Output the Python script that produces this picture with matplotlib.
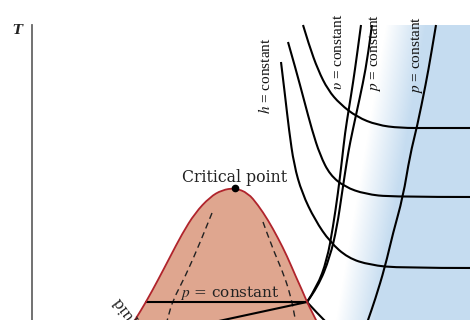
import numpy as np
import matplotlib
matplotlib.use("Agg")
import matplotlib.pyplot as plt
from matplotlib.path import Path
from matplotlib.patches import PathPatch

plt.rcParams['mathtext.fontset'] = 'stix'

# ---- data (s, T) in diagram units ----
dome_s = [130, 135, 146, 158, 170, 182, 195, 210, 222, 235, 248, 258, 268, 278, 287, 296, 302, 307, 312, 316, 321]
dome_T = [-8, 0, 18, 40, 63, 86, 107, 123, 130, 132, 127, 115, 100, 82, 64, 43, 30, 18, 8, 0, -10]
crit_s, crit_T = 235, 132

dash_left_s = [212, 200, 185, 173, 168, 166]
dash_left_T = [107, 77, 43, 20, 3, -5]
dash_right_s = [263, 272, 282, 290, 295, 296]
dash_right_T = [98, 73, 50, 27, 3, -5]

psat_s = [145, 307]
psat_T = [18, 18]
wet_s = [307, 205]
wet_T = [18, -4]
tail_s = [307, 316, 327]
tail_T = [18, 8, -3]

hA_s = [303, 309, 318, 328, 340, 357, 377, 400, 430, 475]
hA_T = [295, 275, 250, 230, 216, 203, 195, 192, 192, 192]
hB_s = [288, 296, 304, 312, 320, 330, 345, 365, 392, 475]
hB_T = [278, 250, 220, 190, 165, 145, 133, 126, 123, 123]
hC_s = [281, 285, 289, 294, 302, 315, 330, 348, 370, 400, 475]
hC_T = [258, 225, 190, 155, 127, 100, 78, 62, 55, 52, 52]

v_s = [361, 357, 353, 349, 345, 342, 338, 333, 327, 317, 307]
v_T = [295, 265, 237, 212, 187, 160, 127, 93, 60, 33, 18]
p1_s = [372, 368, 363, 356, 350, 347, 342, 337, 330, 318, 307]
p1_T = [295, 265, 237, 205, 177, 160, 127, 93, 63, 33, 18]
p2_s = [436, 431, 426, 417, 410, 403, 393, 385, 375, 368, 366]
p2_T = [295, 265, 237, 193, 165, 123, 87, 53, 20, 0, -6]

RED_EDGE = '#b0242c'
DOME_FILL = '#dfa68f'
BLUE = (0.776, 0.863, 0.945)


def smooth_path(s, T, close=False):
    pts = np.column_stack([s, T]).astype(float)
    n = len(pts)
    verts = [pts[0]]
    codes = [Path.MOVETO]
    if n == 2:
        verts.append(pts[1]); codes.append(Path.LINETO)
    else:
        for i in range(1, n - 1):
            end = pts[i + 1] if i == n - 2 else (pts[i] + pts[i + 1]) / 2
            verts += [pts[i], end]
            codes += [Path.CURVE3, Path.CURVE3]
    if close:
        verts.append(pts[0]); codes.append(Path.CLOSEPOLY)
    return Path(verts, codes)


fig = plt.figure(figsize=(4.7, 3.2), dpi=100)
ax = fig.add_axes([0, 0, 1, 1])

# blue superheated-vapor gradient
ss = np.linspace(320, 470, 300)
TT = np.linspace(0, 295, 300)
x0 = 336 + (386 - 336) * TT / 295
alpha = np.clip((ss[None, :] - x0[:, None]) / 40.0, 0, 1)
rgba = np.zeros((300, 300, 4))
rgba[..., 0], rgba[..., 1], rgba[..., 2] = BLUE
rgba[..., 3] = alpha
ax.imshow(rgba, extent=[320, 470, 0, 295], origin='lower', aspect='auto',
          zorder=0, interpolation='bilinear')

# dome
ax.add_patch(PathPatch(smooth_path(dome_s, dome_T, close=True), facecolor=DOME_FILL,
                       edgecolor='none', zorder=1))
ax.add_patch(PathPatch(smooth_path(dome_s, dome_T), facecolor='none',
                       edgecolor=RED_EDGE, lw=1.3, zorder=4))

# dashed lines inside dome
for s, T in [(dash_left_s, dash_left_T), (dash_right_s, dash_right_T)]:
    ax.add_patch(PathPatch(smooth_path(s, T), facecolor='none', edgecolor='#222222',
                           lw=1.0, linestyle=(0, (4.5, 3)), zorder=2))

# black curves
for s, T in [(psat_s, psat_T), (wet_s, wet_T), (tail_s, tail_T),
             (hA_s, hA_T), (hB_s, hB_T), (hC_s, hC_T),
             (v_s, v_T), (p1_s, p1_T), (p2_s, p2_T)]:
    ax.add_patch(PathPatch(smooth_path(s, T), facecolor='none', edgecolor='black',
                           lw=1.5, zorder=3, capstyle='butt'))

# critical point
ax.plot([crit_s], [crit_T], 'o', color='black', ms=4.5, zorder=5)

# texts
ax.text(235, 142, 'Critical point', ha='center', va='center', family='DejaVu Serif',
        fontsize=11.3, color='#222222', zorder=6)
ax.text(230, 27, r'$p$ = constant', ha='center', va='center', family='DejaVu Serif',
        fontsize=11, color='#222222', zorder=6)
rot_kw = dict(rotation=90, ha='center', va='center', family='Liberation Serif',
              fontsize=11, color='#111111', zorder=6)
ax.text(265, 244, r'$h$ = constant', **rot_kw)
ax.text(338, 268, r'$\upsilon$ = constant', **rot_kw)
ax.text(375, 267, r'$p$ = constant', **rot_kw)
ax.text(417, 265, r'$p$ = constant', **rot_kw)
ax.text(117, 21, 'Saturated liquid', rotation=127, rotation_mode='anchor', ha='right',
        va='center', family='DejaVu Serif', fontsize=11, color='#222222', zorder=6)
ax.text(17, 290, 'T', ha='center', va='center', family='DejaVu Serif', fontsize=9.5,
        fontweight='bold', fontstyle='italic', color='#222222')

# T axis as the left spine
for side in ['top', 'right', 'bottom']:
    ax.spines[side].set_visible(False)
ax.spines['left'].set_position(('data', 32))
ax.spines['left'].set_bounds(0, 295)
ax.spines['left'].set_color('#666666')
ax.spines['left'].set_linewidth(1.3)
ax.set_xticks([])
ax.set_yticks([])
ax.set_xlim(0, 470)
ax.set_ylim(0, 320)
ax.patch.set_visible(False)

fig.savefig('out.png', dpi=100)
